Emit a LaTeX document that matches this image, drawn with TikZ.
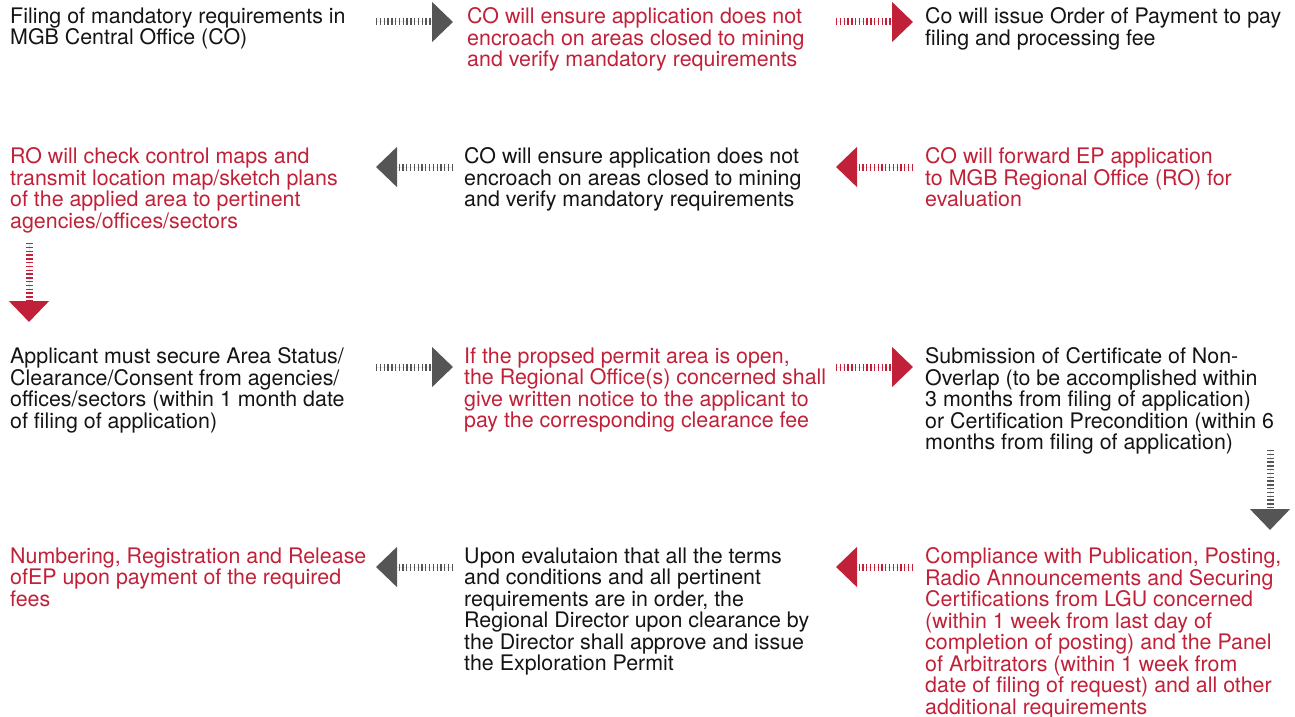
\documentclass[tikz,border=0pt]{standalone}
\usepackage{fontspec}
\setmainfont{TeX Gyre Heros}
\usetikzlibrary{arrows.meta}
\definecolor{cred}{RGB}{193,33,56}
\definecolor{cgray}{RGB}{85,85,85}
\definecolor{ctext}{RGB}{20,20,20}
\tikzset{
  txt/.style={anchor=north west, inner sep=0pt, align=left,
    font=\fontsize{21.4pt}{21.5pt}\selectfont},
  blk/.style={txt, text=ctext},
  rdt/.style={txt, text=cred},
  shaft/.style={line width=7pt, dash pattern=on 1.3pt off 2.5pt,
    -{Triangle[length=21pt,width=39pt]}},
  garrow/.style={shaft, draw=cgray, fill=cgray},
  rarrow/.style={shaft, draw=cred, fill=cred}
}
\newcommand{\ph}{\vphantom{(}}
\begin{document}
\begin{tikzpicture}[x=1pt,y=-1pt]
\useasboundingbox (0,0) rectangle (1295,717);
% row 1
\node[blk] (r1c1) at (10,7.5) {\ph Filing of mandatory requirements in\\MGB Central Office (CO)};
\node[rdt] (r1c2) at (467,7.5) {\ph CO will ensure application does not\\encroach on areas closed to mining\\and verify mandatory requirements};
\node[blk] (r1c3) at (925,7.5) {\ph Co will issue Order of Payment to pay\\filing and processing fee};
% row 2
\node[rdt] (r2c1) at (10,147.5) {\ph RO will check control maps and\\transmit location map/sketch plans\\of the applied area to pertinent\\agencies/offices/sectors};
\node[blk] (r2c2) at (464,147.5) {\ph CO will ensure application does not\\encroach on areas closed to mining\\and verify mandatory requirements};
\node[rdt] (r2c3) at (925,147.5) {\ph CO will forward EP application\\to MGB Regional Office (RO) for\\evaluation};
% row 3
\node[blk] (r3c1) at (10,347.5) {\ph Applicant must secure Area Status/\\Clearance/Consent from agencies/\\offices/sectors (within 1 month date\\of filing of application)};
\node[rdt] (r3c2) at (464,347.5) {\ph If the propsed permit area is open,\\the Regional Office(s) concerned shall\\give written notice to the applicant to\\pay the corresponding clearance fee};
\node[blk] (r3c3) at (925,347.5) {\ph Submission of Certificate of Non-\\Overlap (to be accomplished within\\3 months from filing of application)\\or Certification Precondition (within 6\\months from filing of application)};
% row 4
\node[rdt] (r4c1) at (10,547.5) {\ph Numbering, Registration and Release\\ofEP upon payment of the required\\fees};
\node[blk] (r4c2) at (464,547.5) {\ph Upon evalutaion that all the terms\\and conditions and all pertinent\\requirements are in order, the\\Regional Director upon clearance by\\the Director shall approve and issue\\the Exploration Permit};
\node[rdt] (r4c3) at (925,547.5) {\ph Compliance with Publication, Posting,\\Radio Announcements and Securing\\Certifications from LGU concerned\\(within 1 week from last day of\\completion of posting) and the Panel\\of Arbitrators (within 1 week from\\date of filing of request) and all other\\additional requirements};
% arrow end points
\coordinate (a1s) at (376,22);  \coordinate (a1e) at (453,22);
\coordinate (a2s) at (836,22);  \coordinate (a2e) at (913,22);
\coordinate (a3s) at (913,167); \coordinate (a3e) at (836,167);
\coordinate (a4s) at (453,167); \coordinate (a4e) at (376,167);
\coordinate (a5s) at (29,243);  \coordinate (a5e) at (29,322);
\coordinate (a6s) at (376,367); \coordinate (a6e) at (453,367);
\coordinate (a7s) at (836,367); \coordinate (a7e) at (913,367);
\coordinate (a8s) at (1270,450); \coordinate (a8e) at (1270,530);
\coordinate (a9s) at (913,567); \coordinate (a9e) at (836,567);
\coordinate (a10s) at (453,567); \coordinate (a10e) at (376,567);
% arrows
\draw[garrow] (a1s) -- (a1e);
\draw[rarrow] (a2s) -- (a2e);
\draw[rarrow] (a3s) -- (a3e);
\draw[garrow] (a4s) -- (a4e);
\draw[rarrow] (a5s) -- (a5e);
\draw[garrow] (a6s) -- (a6e);
\draw[rarrow] (a7s) -- (a7e);
\draw[garrow] (a8s) -- (a8e);
\draw[rarrow] (a9s) -- (a9e);
\draw[garrow] (a10s) -- (a10e);
\end{tikzpicture}
\end{document}
